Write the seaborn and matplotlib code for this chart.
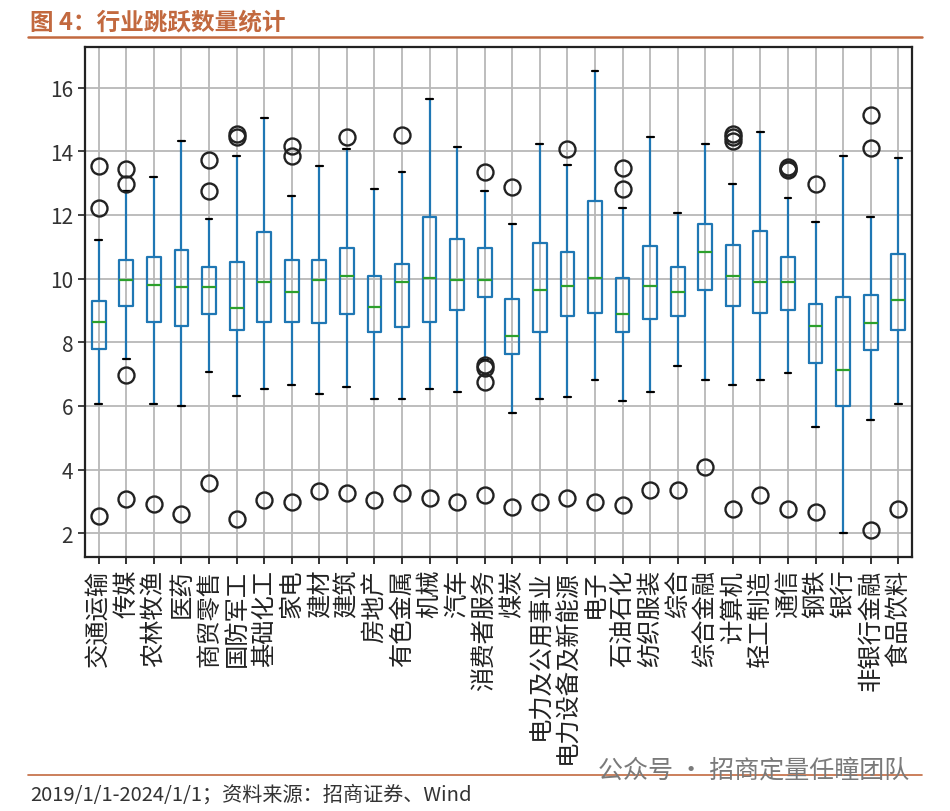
import matplotlib
matplotlib.use("Agg")
import matplotlib.pyplot as plt
from matplotlib.lines import Line2D
import seaborn as sns

industries = [
    "交通运输", "传媒", "农林牧渔", "医药", "商贸零售", "国防军工", "基础化工", "家电",
    "建材", "建筑", "房地产", "有色金属", "机械", "汽车", "消费者服务", "煤炭",
    "电力及公用事业", "电力设备及新能源", "电子", "石油石化", "纺织服装", "综合",
    "综合金融", "计算机", "轻工制造", "通信", "钢铁", "银行", "非银行金融", "食品饮料",
]
q1 = [7.78, 9.15, 8.65, 8.52, 8.89, 8.37, 8.65, 8.65, 8.60, 8.89,
      8.31, 8.49, 8.65, 9.02, 9.42, 7.63, 8.31, 8.83, 8.92, 8.32,
      8.73, 8.81, 9.65, 9.13, 8.92, 9.02, 7.34, 5.99, 7.76, 8.37]
median = [8.64, 9.95, 9.79, 9.73, 9.73, 9.07, 9.88, 9.58, 9.95, 10.07,
          9.10, 9.88, 10.02, 9.95, 9.95, 8.21, 9.65, 9.78, 10.02, 8.89,
          9.78, 9.57, 10.83, 10.07, 9.88, 9.88, 8.52, 7.12, 8.60, 9.34]
q3 = [9.30, 10.60, 10.67, 10.89, 10.37, 10.53, 11.47, 10.60, 10.60, 10.95,
      10.07, 10.46, 11.94, 11.26, 10.97, 9.36, 11.13, 10.83, 12.44, 10.01,
      11.04, 10.37, 11.73, 11.05, 11.49, 10.67, 9.20, 9.42, 9.49, 10.76]
whisker_low = [6.07, 7.47, 6.07, 6.00, 7.05, 6.30, 6.53, 6.67, 6.37, 6.59,
               6.23, 6.23, 6.53, 6.44, 7.45, 5.78, 6.23, 6.28, 6.81, 6.15,
               6.44, 7.25, 6.81, 6.67, 6.81, 7.03, 5.34, 2.00, 5.55, 6.07]
whisker_high = [11.20, 12.76, 13.20, 14.32, 11.86, 13.85, 15.04, 12.60, 13.55, 14.07,
                12.83, 13.34, 15.63, 14.15, 12.75, 11.72, 14.23, 13.56, 16.52, 12.22,
                14.44, 12.07, 14.23, 12.97, 14.60, 12.53, 11.78, 13.86, 11.95, 13.78]
outliers = [
    [13.55, 12.23, 2.53], [13.44, 12.97, 6.97, 3.07], [2.92], [2.60],
    [13.73, 12.74, 3.57], [14.55, 14.45, 2.44], [3.05], [14.16, 13.86, 2.97],
    [3.34], [14.44, 3.26], [3.04], [14.52, 3.26], [3.10], [2.99],
    [13.34, 7.28, 7.20, 6.76, 3.21], [12.87, 2.81], [2.99], [14.07, 3.10],
    [2.99], [13.49, 12.81, 2.89], [3.36], [3.36], [4.09],
    [14.55, 14.45, 14.34, 2.75], [3.20], [13.50, 13.46, 13.42, 2.75],
    [12.97, 2.68], [], [15.13, 14.09, 2.10], [2.76],
]
y_ticks = [2, 4, 6, 8, 10, 12, 14, 16]

title_text = "图 4：行业跳跃数量统计"
source_text = "2019/1/1-2024/1/1；资料来源：招商证券、Wind"
watermark_text = "公众号 · 招商定量任瞳团队"
accent = "#C2693F"

sns.set_theme(style="ticks")
plt.rcParams["font.family"] = ["Noto Sans CJK SC", "DejaVu Sans"]

fig = plt.figure(figsize=(9.5, 8.12), dpi=100)
ax = fig.add_axes([85 / 950, 1 - 558 / 812, (912 - 85) / 950, (558 - 48) / 812])

stats = [
    dict(label=name, q1=a, med=m, q3=b, whislo=lo, whishi=hi, fliers=fl)
    for name, a, m, b, lo, hi, fl in zip(industries, q1, median, q3, whisker_low, whisker_high, outliers)
]
ax.bxp(
    stats,
    widths=0.5,
    boxprops=dict(color="#1f77b4", linewidth=1.6),
    whiskerprops=dict(color="#1f77b4", linewidth=1.6),
    capprops=dict(color="black", linewidth=1.6),
    medianprops=dict(color="#2ca02c", linewidth=1.6),
    flierprops=dict(marker="o", markerfacecolor="none", markeredgecolor="#222222",
                    markersize=11.5, markeredgewidth=1.7),
)

ax.set_ylim(1.25, 17.28)
ax.set_yticks(y_ticks)
ax.grid(True, color="#b8b8b8", linewidth=1.3)
ax.set_axisbelow(True)
for spine in ax.spines.values():
    spine.set_color("#222222")
    spine.set_linewidth(1.6)
ax.tick_params(axis="y", labelsize=15, length=5, width=1.3, colors="#333333")
ax.tick_params(axis="x", labelsize=17.5, length=5, width=1.3, colors="#222222")
plt.setp(ax.get_xticklabels(), rotation=90)

fig.text(30 / 950, 1 - 22 / 812, title_text, color=accent, fontsize=17,
         fontweight="bold", va="center", ha="left")
fig.add_artist(Line2D([28 / 950, 922 / 950], [1 - 38 / 812] * 2, color=accent,
                      linewidth=1.8, transform=fig.transFigure))
fig.add_artist(Line2D([28 / 950, 922 / 950], [1 - 776 / 812] * 2, color=accent,
                      linewidth=1.2, transform=fig.transFigure))
fig.text(30 / 950, 1 - 795 / 812, source_text, color="#333333", fontsize=14.5,
         va="center", ha="left")
fig.text(598 / 950, 1 - 771 / 812, watermark_text, color="#7a7a7a", fontsize=18,
         va="center", ha="left")

fig.savefig("out.png", dpi=100)
